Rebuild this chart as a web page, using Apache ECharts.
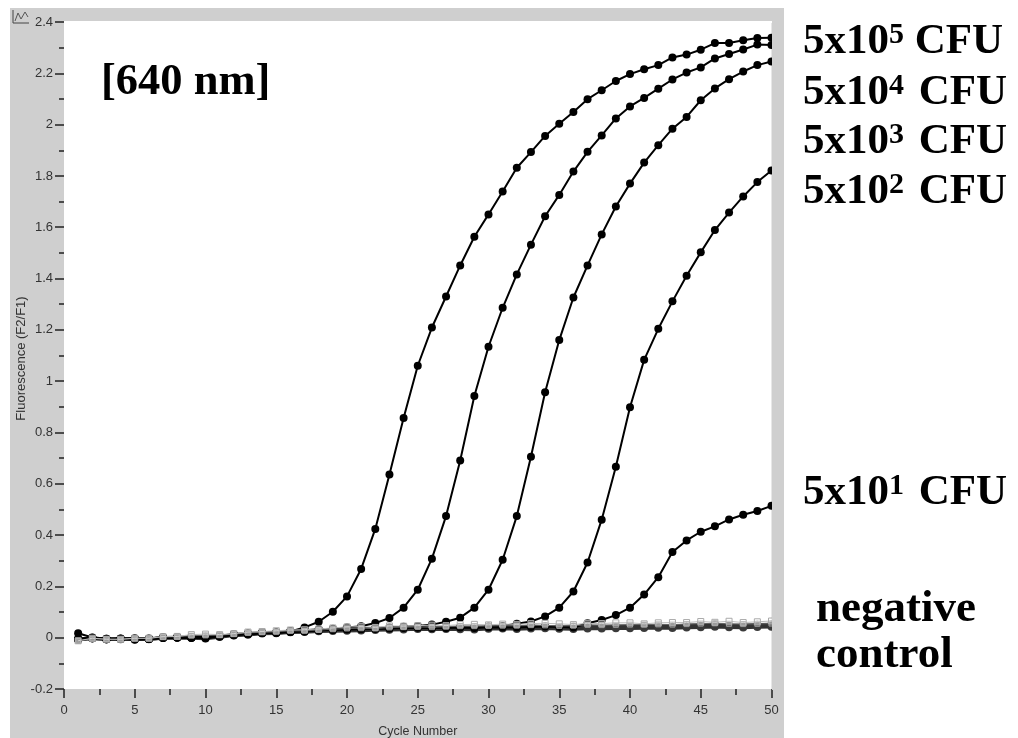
<!DOCTYPE html>
<html><head><meta charset="utf-8">
<style>html,body{margin:0;padding:0;background:#fff}#c{width:1018px;height:738px}</style>
<script src="https://cdn.jsdelivr.net/npm/echarts@6/dist/echarts.min.js"></script>
</head><body><div id="c"></div>
<script>
const cycles = [1,2,3,4,5,6,7,8,9,10,11,12,13,14,15,16,17,18,19,20,21,22,23,24,25,26,27,28,29,30,31,32,33,34,35,36,37,38,39,40,41,42,43,44,45,46,47,48,49,50];
const cfu5e5 = [0.017,0.001,-0.004,-0.004,-0.008,-0.005,-0.001,0.001,0.000,-0.002,
  0.005,0.012,0.013,0.018,0.019,0.024,0.040,0.062,0.101,0.161,
  0.268,0.424,0.636,0.856,1.060,1.209,1.330,1.451,1.563,1.650,
  1.739,1.832,1.893,1.956,2.003,2.049,2.099,2.134,2.170,2.197,
  2.216,2.232,2.262,2.273,2.292,2.318,2.318,2.329,2.338,2.339];
const cfu5e4 = [-0.004,0.000,-0.004,-0.003,-0.002,-0.003,0.002,0.003,0.003,0.004,
  0.008,0.013,0.017,0.020,0.021,0.026,0.029,0.033,0.035,0.040,
  0.045,0.057,0.077,0.117,0.187,0.308,0.474,0.691,0.942,1.134,
  1.286,1.416,1.532,1.643,1.726,1.817,1.894,1.958,2.024,2.071,
  2.104,2.140,2.176,2.203,2.223,2.258,2.275,2.293,2.312,2.310];
const cfu5e3 = [-0.006,-0.001,-0.006,-0.004,-0.004,-0.004,0.001,0.002,0.001,0.002,
  0.007,0.012,0.015,0.019,0.020,0.024,0.026,0.030,0.032,0.034,
  0.036,0.038,0.040,0.043,0.046,0.051,0.062,0.078,0.117,0.187,
  0.304,0.474,0.705,0.957,1.160,1.326,1.451,1.572,1.681,1.770,
  1.852,1.920,1.984,2.030,2.095,2.141,2.177,2.207,2.232,2.246];
const cfu5e2 = [-0.007,-0.002,-0.006,-0.005,-0.005,-0.005,0.000,0.001,0.001,0.001,
  0.006,0.011,0.015,0.018,0.019,0.023,0.025,0.029,0.031,0.033,
  0.034,0.036,0.038,0.040,0.041,0.039,0.040,0.042,0.040,0.044,
  0.046,0.054,0.063,0.083,0.117,0.180,0.293,0.460,0.666,0.898,
  1.083,1.204,1.311,1.411,1.502,1.589,1.657,1.720,1.776,1.821];
const cfu5e1 = [-0.006,-0.002,-0.005,-0.005,-0.006,-0.005,0.000,0.001,0.000,0.000,
  0.006,0.010,0.014,0.018,0.019,0.022,0.024,0.028,0.030,0.032,
  0.033,0.034,0.036,0.038,0.039,0.038,0.038,0.040,0.038,0.041,
  0.040,0.040,0.042,0.044,0.042,0.040,0.056,0.069,0.088,0.117,
  0.168,0.236,0.334,0.379,0.413,0.434,0.461,0.479,0.494,0.514];
const negA = [-0.006,-0.002,-0.006,-0.006,-0.006,-0.006,-0.001,0.000,-0.001,-0.003,
  0.003,0.009,0.011,0.016,0.017,0.021,0.022,0.025,0.026,0.027,
  0.028,0.030,0.031,0.032,0.034,0.033,0.034,0.033,0.032,0.035,
  0.036,0.034,0.036,0.037,0.035,0.034,0.036,0.036,0.037,0.037,
  0.038,0.039,0.038,0.040,0.041,0.043,0.041,0.040,0.042,0.043];
const negB = [-0.008,-0.002,-0.006,-0.005,-0.004,-0.005,0.000,0.001,0.002,0.003,
  0.006,0.011,0.015,0.018,0.019,0.023,0.024,0.028,0.030,0.032,
  0.034,0.034,0.036,0.037,0.038,0.037,0.039,0.040,0.040,0.041,
  0.041,0.042,0.044,0.043,0.041,0.043,0.044,0.043,0.044,0.045,
  0.045,0.046,0.046,0.048,0.049,0.051,0.048,0.048,0.050,0.051];
const negC = [-0.012,-0.004,-0.006,-0.007,-0.003,-0.003,0.003,0.004,0.008,0.009,
  0.010,0.014,0.019,0.021,0.023,0.027,0.027,0.030,0.033,0.036,
  0.037,0.036,0.040,0.041,0.042,0.041,0.043,0.045,0.045,0.046,
  0.047,0.047,0.049,0.048,0.046,0.047,0.050,0.049,0.050,0.051,
  0.051,0.052,0.051,0.053,0.055,0.056,0.054,0.053,0.054,0.055];
const negD = [-0.012,-0.002,-0.006,-0.006,-0.002,-0.002,0.004,0.005,0.012,0.014,
  0.012,0.016,0.022,0.024,0.027,0.030,0.031,0.034,0.038,0.042,
  0.043,0.040,0.046,0.045,0.047,0.049,0.047,0.051,0.052,0.050,
  0.053,0.052,0.055,0.056,0.054,0.051,0.056,0.055,0.058,0.058,
  0.054,0.058,0.059,0.059,0.063,0.060,0.064,0.059,0.062,0.065];
const curves = [cfu5e5, cfu5e4, cfu5e3, cfu5e2, cfu5e1];
const negatives = [negA, negB, negC, negD];
const yTitle = 'Fluorescence (F2/F1)';
const xTitle = 'Cycle Number';
const wavelength = '[640 nm]';
const doseExponents = ['5','4','3','2','1'];
const negativeLabel = ['negative','control'];

const pair = v => v.map((y,i)=>[cycles[i],y]);
const GRAY = '#cfcfcf';
const serif = '"Liberation Serif","Times New Roman",serif';
const sans = '"Liberation Sans",Arial,sans-serif';

const series = [];
negatives.slice(0,2).forEach(v=>series.push({type:'line',data:pair(v),symbol:'circle',symbolSize:8,z:3,
  lineStyle:{color:'#333',width:3.5},itemStyle:{color:'#3a3a3a'}}));
curves.forEach(v=>series.push({type:'line',data:pair(v),symbol:'circle',symbolSize:8,z:4,
  lineStyle:{color:'#000',width:2},itemStyle:{color:'#000'}}));
series.push({type:'line',data:pair(negC),symbol:'rect',symbolSize:5,z:5,
  lineStyle:{color:'#666',width:1},itemStyle:{color:'#666',borderColor:'#999',borderWidth:1}});
series.push({type:'line',data:pair(negD),symbol:'rect',symbolSize:6,z:6,
  lineStyle:{color:'#bbb',width:1},itemStyle:{color:'rgba(255,255,255,0.35)',borderColor:'#aaa',borderWidth:1}});
series.forEach(s=>{s.animation=false;s.showSymbol=true;s.showAllSymbol=true;s.clip=false;s.silent=true;});

const big = {fontFamily:serif,fontWeight:'bold',fill:'#000'};
const rich = {
  b:{fontFamily:serif,fontWeight:'bold',fontSize:43,lineHeight:44,fill:'#000',color:'#000'},
  s:{fontFamily:serif,fontWeight:'bold',fontSize:30,lineHeight:30,verticalAlign:'top',fill:'#000',color:'#000',padding:[0,4,0,0]},
  t:{fontFamily:serif,fontWeight:'bold',fontSize:30,lineHeight:30,verticalAlign:'top',fill:'#000',color:'#000',padding:[0,0,0,0]}
};
const rowTops = [20,71,120,170,471];
const doseTexts = doseExponents.map((e,i)=>({type:'text',left:803,top:rowTops[i],z:20,
  style:{text:`{b|5x10}{${i===0?'t':'s'}|${e}}{b| CFU}`,rich}}));

const option = {
  animation:false,
  backgroundColor:'#fff',
  grid:{left:64,right:246.5,top:22,bottom:49,show:true,backgroundColor:'#fff',borderWidth:0,outerBoundsMode:'none'},
  xAxis:{type:'value',min:0,max:50,interval:5,
    name:xTitle,nameLocation:'middle',nameGap:36,nameMoveOverlap:false,
    nameTextStyle:{fontFamily:sans,fontSize:12.5,color:'#333'},
    axisLine:{show:false,onZero:false},
    axisTick:{show:true,length:9,lineStyle:{color:'#222',width:1.5}},
    minorTick:{show:true,splitNumber:2,length:6,lineStyle:{color:'#222',width:1.5}},
    axisLabel:{fontFamily:sans,fontSize:13,color:'#333',margin:15,hideOverlap:false},
    splitLine:{show:false}},
  yAxis:{type:'value',min:-0.2,max:2.4,interval:0.2,
    name:yTitle,nameLocation:'middle',nameGap:36,nameMoveOverlap:false,
    nameTextStyle:{fontFamily:sans,fontSize:13,color:'#333',padding:[0,6,0,0]},
    axisLine:{show:false},
    axisTick:{show:true,length:9,lineStyle:{color:'#222',width:1.5}},
    minorTick:{show:true,splitNumber:2,length:5,lineStyle:{color:'#222',width:1.5}},
    axisLabel:{fontFamily:sans,fontSize:13,color:'#333',margin:11,padding:[3,0,0,0],showMinLabel:true,showMaxLabel:true,hideOverlap:false},
    splitLine:{show:false},minorSplitLine:{show:false}},
  series,
  graphic:[
    {type:'rect',z:-10,shape:{x:10,y:8,width:774,height:730},style:{fill:GRAY}},
    {type:'rect',z:-9,shape:{x:64,y:21,width:708,height:2},style:{fill:'#fff'}},
    {type:'rect',z:15,shape:{x:772,y:8,width:12,height:682},style:{fill:GRAY}},
    {type:'polyline',z:15,shape:{points:[[13,10],[13,23],[29,23]]},style:{stroke:'#444',fill:'none',lineWidth:1}},
    {type:'polyline',z:15,shape:{points:[[15,21],[18,13],[21,19],[25,12],[28,17]]},style:{stroke:'#555',fill:'none',lineWidth:1}},
    {type:'text',left:101,top:60,z:20,style:Object.assign({text:wavelength,fontSize:44.5},big)},
    ...doseTexts,
    {type:'text',left:816,top:587,z:20,style:Object.assign({text:negativeLabel[0],fontSize:45},big)},
    {type:'text',left:816,top:633,z:20,style:Object.assign({text:negativeLabel[1],fontSize:45},big)}
  ]
};
const chart = echarts.init(document.getElementById('c'),null,{renderer:'canvas'});
chart.setOption(option);
</script></body></html>
